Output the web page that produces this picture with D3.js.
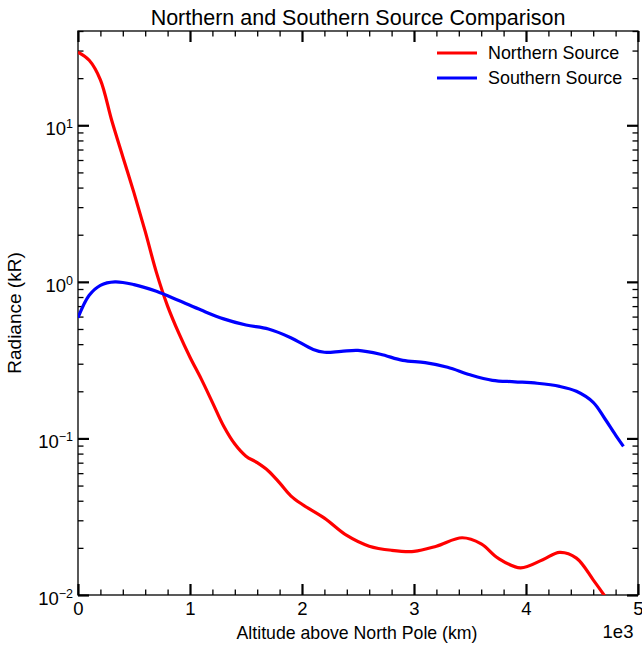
<!DOCTYPE html>
<html>
<head>
<meta charset="utf-8">
<script src="https://cdn.jsdelivr.net/npm/d3@7"></script>
<style>
  body { margin: 0; background: #fff; }
  text { font-family: "Liberation Sans", Arial, Helvetica, sans-serif; fill: #000; }
</style>
</head>
<body>
<svg id="chart" width="642" height="646"></svg>
<script>
// Radiance profiles along altitude above the north pole (km -> kR)
const northAltKm = [0, 100, 200, 300, 400, 500, 600, 700, 800, 900, 1000, 1100, 1200, 1300, 1400, 1500,
  1600, 1700, 1800, 1900, 2000, 2200, 2400, 2600, 2800, 3000, 3200, 3430, 3600, 3750, 3950,
  4150, 4300, 4450, 4600, 4750, 4850];
const northKR = [29.3, 26, 19.5, 10.8, 6.3, 3.7, 2.1, 1.15, 0.7, 0.47, 0.33, 0.24, 0.17, 0.12, 0.092, 0.077,
  0.07, 0.062, 0.052, 0.043, 0.038, 0.031, 0.024, 0.0205, 0.0193, 0.019, 0.0205, 0.0232, 0.0212, 0.0172, 0.0149,
  0.0168, 0.0187, 0.0172, 0.0125, 0.0088, 0.0068];

const southAltKm = [0, 100, 200, 330, 500, 700, 900, 1100, 1300, 1500, 1700, 1900, 2100, 2200, 2350, 2500,
  2700, 2900, 3100, 3300, 3500, 3700, 3900, 4100, 4300, 4450, 4600, 4700, 4800, 4870];
const southKR = [0.59, 0.82, 0.95, 1.0, 0.96, 0.87, 0.76, 0.66, 0.58, 0.53, 0.5, 0.44, 0.37, 0.355, 0.36, 0.365,
  0.345, 0.315, 0.305, 0.285, 0.255, 0.235, 0.23, 0.225, 0.215, 0.2, 0.17, 0.135, 0.105, 0.089];

const seriesNames = ["Northern Source", "Southern Source"];
const seriesColors = ["#ff0000", "#0000ff"];

const xMajor = [0, 1000, 2000, 3000, 4000, 5000];
const xMajorLabels = ["0", "1", "2", "3", "4", "5"];
const yDecades = [0.01, 0.1, 1, 10];
const yExponents = ["\u22122", "\u22121", "0", "1"];

const titleText = "Northern and Southern Source Comparison";
const xTitle = "Altitude above North Pole (km)";
const yTitle = "Radiance (kR)";
const xOffsetText = "1e3";

// ---- layout ----
const L = 78, R = 638, T = 31, B = 595;
const svg = d3.select("#chart");

const x = d3.scaleLinear().domain([0, 5000]).range([L, R]);
const y = d3.scaleLog().domain([0.01, 40]).range([B, T]);

const xMinor = d3.range(0, 5001, 200).filter(v => !xMajor.includes(v));
const yMinor = [];
yDecades.forEach(d => { for (let k = 2; k <= 9; k++) { const v = d * k; if (v <= 40) yMinor.push(v); } });

const MAJ = 11, MIN = 5.5;

function styleAxis(g, width) {
  g.select(".domain").remove();
  g.selectAll(".tick line").attr("stroke", "#000").attr("stroke-width", width);
}

// bottom axis
svg.append("g").attr("transform", `translate(0,${B})`)
  .call(d3.axisBottom(x).tickValues(xMinor).tickSize(-MIN).tickFormat(""))
  .call(g => styleAxis(g, 1.3));
const gxb = svg.append("g").attr("transform", `translate(0,${B})`)
  .call(d3.axisBottom(x).tickValues(xMajor).tickSize(-MAJ).tickPadding(7)
    .tickFormat((d, i) => xMajorLabels[i]))
  .call(g => styleAxis(g, 2.2));
gxb.selectAll("text").attr("font-size", 18.5).attr("font-family", null);

// top axis
svg.append("g").attr("transform", `translate(0,${T})`)
  .call(d3.axisTop(x).tickValues(xMinor).tickSize(-MIN).tickFormat(""))
  .call(g => styleAxis(g, 1.3));
svg.append("g").attr("transform", `translate(0,${T})`)
  .call(d3.axisTop(x).tickValues(xMajor).tickSize(-MAJ).tickFormat(""))
  .call(g => styleAxis(g, 2.2));

// left axis
svg.append("g").attr("transform", `translate(${L},0)`)
  .call(d3.axisLeft(y).tickValues(yMinor).tickSize(-MIN).tickFormat(""))
  .call(g => styleAxis(g, 1.3));
const gyl = svg.append("g").attr("transform", `translate(${L},0)`)
  .call(d3.axisLeft(y).tickValues(yDecades).tickSize(-MAJ).tickPadding(5).tickFormat(""))
  .call(g => styleAxis(g, 2.2));
gyl.selectAll(".tick text").each(function (d, i) {
  const t = d3.select(this).attr("font-size", 18.5).attr("font-family", null).attr("dy", "0.5em");
  t.text(null);
  t.append("tspan").text("10");
  t.append("tspan").attr("font-size", 12.5).attr("dy", -7).text(yExponents[i]);
});

// right axis
svg.append("g").attr("transform", `translate(${R},0)`)
  .call(d3.axisRight(y).tickValues(yMinor).tickSize(-MIN).tickFormat(""))
  .call(g => styleAxis(g, 1.3));
svg.append("g").attr("transform", `translate(${R},0)`)
  .call(d3.axisRight(y).tickValues(yDecades).tickSize(-MAJ).tickFormat(""))
  .call(g => styleAxis(g, 2.2));

// frame
svg.append("rect").attr("x", L).attr("y", T).attr("width", R - L).attr("height", B - T)
  .attr("fill", "none").attr("stroke", "#000").attr("stroke-width", 1.3);

// curves
svg.append("clipPath").attr("id", "plotClip")
  .append("rect").attr("x", L).attr("y", T).attr("width", R - L).attr("height", B - T);

const line = d3.line().x(d => x(d[0])).y(d => y(d[1])).curve(d3.curveCatmullRom.alpha(0.5));
const series = [
  d3.zip(northAltKm, northKR),
  d3.zip(southAltKm, southKR)
];
svg.append("g").attr("clip-path", "url(#plotClip)")
  .selectAll("path").data(series).join("path")
  .attr("d", line)
  .attr("fill", "none")
  .attr("stroke", (d, i) => seriesColors[i])
  .attr("stroke-width", 3.2)
  .attr("stroke-linejoin", "round");

// legend
const legend = svg.append("g");
seriesNames.forEach((name, i) => {
  const ly = 53 + i * 25;
  legend.append("line").attr("x1", 437).attr("x2", 477).attr("y1", ly).attr("y2", ly)
    .attr("stroke", seriesColors[i]).attr("stroke-width", 3.2);
  legend.append("text").attr("x", 488).attr("y", ly).attr("dy", "0.36em")
    .attr("font-size", 17.9).text(name);
});

// titles
svg.append("text").attr("x", 358).attr("y", 25).attr("text-anchor", "middle")
  .attr("font-size", 21.5).text(titleText);
svg.append("text").attr("x", 357).attr("y", 639).attr("text-anchor", "middle")
  .attr("font-size", 17.7).text(xTitle);
svg.append("text").attr("transform", `translate(21,${(T + B) / 2}) rotate(-90)`)
  .attr("text-anchor", "middle").attr("font-size", 19).text(yTitle);
svg.append("text").attr("x", 618).attr("y", 638).attr("text-anchor", "middle")
  .attr("font-size", 18.5).text(xOffsetText);
</script>
</body>
</html>
